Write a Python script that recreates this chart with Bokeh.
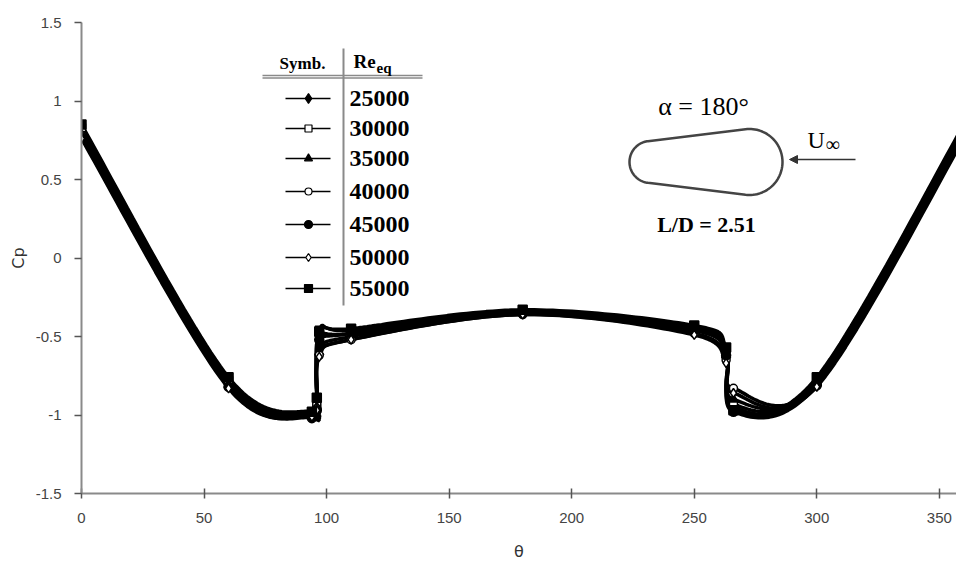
import numpy as np
from bokeh.plotting import figure
from bokeh.models import (Range1d, FixedTicker, Arrow, NormalHead, CustomJSTickFormatter)
from bokeh.core.properties import value
from bokeh.embed import file_html
from bokeh.resources import INLINE

# Pressure coefficient around the body, one series per equivalent Reynolds number
theta = [0, 60, 94, 96, 97, 110, 180, 250, 263, 266, 300, 360]
re_labels = ["25000", "30000", "35000", "40000", "45000", "50000", "55000"]
cp_25000 = [0.80, -0.80, -1.00, -0.95, -0.55, -0.48, -0.34, -0.45, -0.60, -0.95, -0.80, 0.80]
cp_30000 = [0.83, -0.78, -0.99, -0.93, -0.46, -0.46, -0.34, -0.44, -0.58, -0.93, -0.78, 0.83]
cp_35000 = [0.79, -0.81, -1.00, -0.95, -0.60, -0.50, -0.35, -0.46, -0.62, -0.90, -0.79, 0.79]
cp_40000 = [0.78, -0.82, -0.99, -0.96, -0.62, -0.52, -0.36, -0.48, -0.65, -0.83, -0.81, 0.78]
cp_45000 = [0.77, -0.82, -1.02, -0.97, -0.52, -0.48, -0.35, -0.46, -0.62, -0.98, -0.81, 0.77]
cp_50000 = [0.76, -0.83, -1.01, -0.97, -0.63, -0.52, -0.36, -0.49, -0.67, -0.86, -0.82, 0.76]
cp_55000 = [0.85, -0.76, -0.98, -0.89, -0.47, -0.45, -0.33, -0.43, -0.57, -0.97, -0.76, 0.85]
series = [cp_25000, cp_30000, cp_35000, cp_40000, cp_45000, cp_50000, cp_55000]

x_ticks = [0, 50, 100, 150, 200, 250, 300, 350]
y_ticks = [-1.5, -1, -0.5, 0, 0.5, 1, 1.5]

# marker shape, fill colour, size
styles = [("diamond", "black", 11), ("square", "white", 8), ("triangle", "black", 9),
          ("circle", "white", 8), ("circle", "black", 9), ("diamond", "white", 9),
          ("square", "black", 9)]

W, H = 956, 567
FL, FT, FB = 81, 22, 74
FW, FH = W - FL, H - FT - FB
XMAX = 357
YMIN, YMAX = -1.5, 1.5


def X(px):
    return (px - FL) * XMAX / FW


def Y(py):
    return YMAX - (py - FT) * (YMAX - YMIN) / FH


def smooth(xs, ys, n=30):
    """Bezier smoothing through the points (Catmull-Rom tangents, screen scaled)."""
    sx, sy = FW / XMAX, FH / (YMAX - YMIN)
    P = np.column_stack([np.asarray(xs, float) * sx, np.asarray(ys, float) * sy])
    out = []
    m = len(P)
    for i in range(m - 1):
        p0 = P[i - 1] if i > 0 else P[i]
        p1, p2 = P[i], P[i + 1]
        p3 = P[i + 2] if i + 2 < m else P[i + 1]
        c1 = p1 + (p2 - p0) / 6.0
        c2 = p2 - (p3 - p1) / 6.0
        t = np.linspace(0, 1, n, endpoint=(i == m - 2))[:, None]
        b = ((1 - t) ** 3) * p1 + 3 * ((1 - t) ** 2) * t * c1 + 3 * (1 - t) * t ** 2 * c2 + t ** 3 * p2
        out.append(b)
    B = np.vstack(out)
    return B[:, 0] / sx, B[:, 1] / sy


p = figure(width=W, height=H, output_backend="svg", toolbar_location=None,
           x_range=Range1d(0, XMAX), y_range=Range1d(YMIN, YMAX),
           min_border_left=FL, min_border_right=0, min_border_top=FT, min_border_bottom=FB)
p.outline_line_color = None
p.xgrid.visible = False
p.ygrid.visible = False
p.background_fill_color = "white"

for ax in (p.xaxis, p.yaxis):
    ax.axis_line_color = "#8a8a8a"
    ax.axis_line_width = 2
    ax.major_tick_line_color = "#555555"
    ax.major_tick_line_width = 1.5
    ax.minor_tick_line_color = None
    ax.major_label_text_font = "Liberation Sans"
    ax.major_label_text_font_size = "15px"
    ax.major_label_text_color = "#444444"
    ax.axis_label_text_font = "DejaVu Sans"
    ax.axis_label_text_font_style = "normal"
    ax.axis_label_text_font_size = "16px"
    ax.axis_label_text_color = "#333333"

p.xaxis.ticker = FixedTicker(ticks=x_ticks)
p.yaxis.ticker = FixedTicker(ticks=y_ticks)
p.yaxis.formatter = CustomJSTickFormatter(code="return tick.toString();")
p.xaxis.major_tick_in = 5
p.xaxis.major_tick_out = 5
p.yaxis.major_tick_in = 0
p.yaxis.major_tick_out = 7
p.xaxis.major_label_standoff = 14
p.yaxis.major_label_standoff = 13
p.xaxis.axis_label = "θ"
p.yaxis.axis_label = "Cp"
p.xaxis.axis_label_standoff = 16
p.yaxis.axis_label_standoff = 5

# curves
for cp in series:
    sx_, sy_ = smooth(theta, cp)
    p.line(sx_, sy_, line_color="black", line_width=3.5)

# data markers
for cp, (mk, fill, size) in zip(series, styles):
    p.scatter(theta, cp, marker=mk, size=size, fill_color=fill, line_color="black", line_width=1.5)

# ---- symbol table ----
serif = value("Liberation Serif")
p.segment(x0=[X(262), X(262)], y0=[Y(75), Y(77.5)], x1=[X(422), X(422)], y1=[Y(75), Y(77.5)],
          line_color="#8a8a8a", line_width=1.3)
p.segment(x0=[X(343)], y0=[Y(48)], x1=[X(343)], y1=[Y(305)], line_color="#8a8a8a", line_width=2)
p.text(x=[X(302)], y=[Y(63)], text=["Symb."], text_align="center", text_baseline="middle",
       text_font=serif, text_font_style="bold", text_font_size="17px", text_color="black")
p.text(x=[X(353)], y=[Y(61)], text=["Re"], text_align="left", text_baseline="middle",
       text_font=serif, text_font_style="bold", text_font_size="19px", text_color="black")
p.text(x=[X(376)], y=[Y(67)], text=["eq"], text_align="left", text_baseline="middle",
       text_font=serif, text_font_style="bold", text_font_size="15px", text_color="black")

row_y = [98, 128, 158, 191, 224, 257, 288]
for i, (lab, (mk, fill, size)) in enumerate(zip(re_labels, styles)):
    yy = Y(row_y[i])
    p.segment(x0=[X(285)], y0=[yy], x1=[X(330)], y1=[yy], line_color="black", line_width=1.5)
    p.scatter([X(308)], [yy], marker=mk, size=size - 1, fill_color=fill, line_color="black",
              line_width=1.2)
    p.text(x=[X(349)], y=[yy], text=[lab], text_align="left", text_baseline="middle",
           text_font=serif, text_font_style="bold", text_font_size="24px", text_color="black")

# ---- body sketch ----
c1, r1 = np.array([650.0, 161.5]), 21.0
c2, r2 = np.array([749.0, 161.5]), 33.0
d = c2[0] - c1[0]
s = (r1 - r2) / d
a_top = np.arctan2(-np.sqrt(1 - s * s), s)
a_bot = np.arctan2(np.sqrt(1 - s * s), s)
left_arc = np.linspace(a_bot, 2 * np.pi + a_top, 60)
right_arc = np.linspace(a_top, a_bot, 60)
bx = np.concatenate([c2[0] + r2 * np.cos(right_arc), c1[0] + r1 * np.cos(left_arc)])
by = np.concatenate([c2[1] + r2 * np.sin(right_arc), c1[1] + r1 * np.sin(left_arc)])
bx = np.append(bx, bx[0])
by = np.append(by, by[0])
p.line([X(v) for v in bx], [Y(v) for v in by], line_color="#444444", line_width=2.5)

p.text(x=[X(703)], y=[Y(106)], text=["α = 180°"], text_align="center", text_baseline="middle",
       text_font=serif, text_font_size="26px", text_color="black")
p.text(x=[X(706)], y=[Y(224)], text=["L/D = 2.51"], text_align="center", text_baseline="middle",
       text_font=serif, text_font_style="bold", text_font_size="22px", text_color="black")
p.text(x=[X(807)], y=[Y(139)], text=["U"], text_align="left", text_baseline="middle",
       text_font=serif, text_font_size="24px", text_color="black")
p.text(x=[X(825)], y=[Y(143)], text=["∞"], text_align="left", text_baseline="middle",
       text_font=serif, text_font_size="20px", text_color="black")
p.add_layout(Arrow(end=NormalHead(size=8, fill_color="#333333", line_color="#333333"),
                   x_start=X(855), y_start=Y(159), x_end=X(789), y_end=Y(159),
                   line_color="#333333", line_width=1.5))

open("out.html", "w").write(file_html(p, INLINE))
